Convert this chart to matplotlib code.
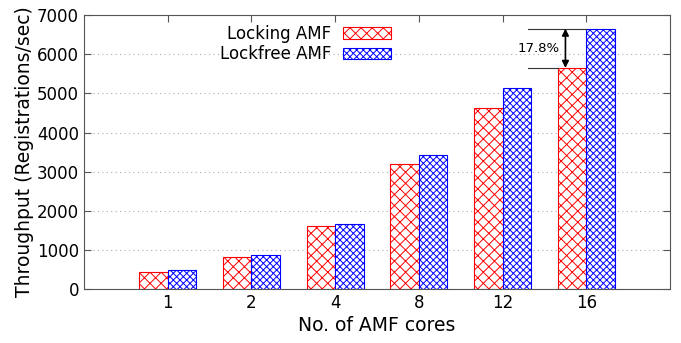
import numpy as np
import matplotlib
matplotlib.use('Agg')
import matplotlib.pyplot as plt

cores = ['1', '2', '4', '8', '12', '16']
locking = [450, 825, 1610, 3195, 4625, 5650]
lockfree = [480, 870, 1660, 3420, 5135, 6655]

plt.rcParams['hatch.linewidth'] = 0.7

fig = plt.figure(figsize=(6.81, 3.43), dpi=100)
ax = fig.add_axes([0.1233, 0.157, 0.8607, 0.799])

x = np.arange(len(cores))
w = 0.34
ax.bar(x - w/2, locking, w, color='white', edgecolor='red', hatch='xxx',
       linewidth=0.8, label='Locking AMF', zorder=2)
ax.bar(x + w/2, lockfree, w, color='white', edgecolor='blue', hatch='xxxxx',
       linewidth=0.8, label='Lockfree AMF', zorder=2)

ax.set_xlim(-1, 6)
ax.set_ylim(0, 7000)
ax.set_xticks(x)
ax.set_xticklabels(cores)
ax.set_yticks(range(0, 7001, 1000))
ax.tick_params(axis='both', labelsize=12, direction='in', length=5,
               top=True, right=True, color='#555555')
ax.yaxis.grid(True, ls=(0, (1, 3)), color='#aaaaaa', lw=0.8)
for s in ax.spines.values():
    s.set_color('#555555')

ax.set_xlabel('No. of AMF cores', fontsize=13.5, labelpad=3)
ax.set_ylabel('Throughput (Registrations/sec)', fontsize=13.5, labelpad=2)

# gap annotation on the last group
lo, hi = locking[-1], lockfree[-1]
xa = x[-1] - 0.5
ax.plot([x[-1] - 0.7, x[-1]], [hi, hi], color='#333333', lw=0.8, zorder=3)
ax.plot([x[-1] - 0.7, x[-1] - w], [lo, lo], color='#333333', lw=0.8, zorder=3)
ax.annotate('', xy=(xa + 0.25, hi), xytext=(xa + 0.25, lo),
            arrowprops=dict(arrowstyle='<|-|>', color='black', lw=1.2,
                            shrinkA=0, shrinkB=0, mutation_scale=10))
pct = (hi - lo) / lo * 100
ax.text(xa - 0.07, (hi + lo) / 2, '%.1f%%' % pct, fontsize=9.5,
        ha='center', va='center')

ax.legend(loc='upper left', bbox_to_anchor=(0.206, 1.019), frameon=False,
          fontsize=12, markerfirst=False, handlelength=2.9, handleheight=0.7,
          labelspacing=0.15, handletextpad=0.7)

fig.savefig('out.png', dpi=100)
